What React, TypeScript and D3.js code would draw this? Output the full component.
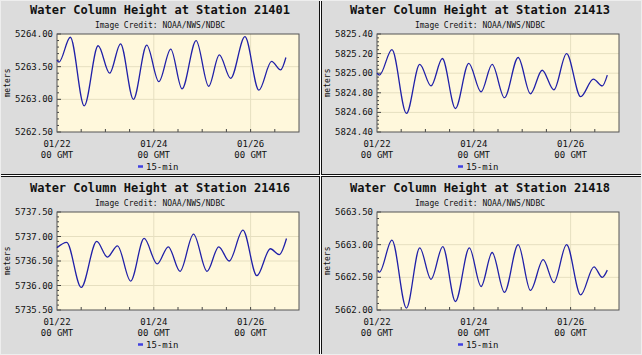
import React from "react";
import * as d3 from "d3";

const stations = ["21401", "21413", "21416", "21418"];

const hours1 = [0, 1, 6.6, 13.5, 20.4, 26.1, 31.5, 37.9, 44.5, 50.5, 56.4, 62.0, 69.0, 75.2, 80.5, 86.1, 93.2, 100.1, 106.4, 110.9, 113.5];
const values1 = [5263.60, 5263.57, 5263.95, 5262.90, 5263.82, 5263.40, 5263.85, 5263.00, 5263.83, 5263.27, 5263.77, 5263.16, 5263.90, 5263.20, 5263.68, 5263.32, 5263.96, 5263.14, 5263.58, 5263.45, 5263.64];

const hours2 = [0, 1.2, 7.4, 14.6, 21.2, 26.8, 32.4, 38.9, 45.5, 51.6, 57.1, 63.2, 70.0, 76.1, 81.9, 87.7, 94.0, 101.0, 107.3, 111.7, 114.2];
const values2 = [5825.00, 5824.98, 5825.24, 5824.59, 5825.09, 5824.87, 5825.15, 5824.64, 5825.10, 5824.81, 5825.09, 5824.75, 5825.16, 5824.79, 5825.03, 5824.83, 5825.20, 5824.76, 5824.94, 5824.87, 5824.98];

const hours3 = [0, 4.8, 12.0, 19.7, 25.0, 30.0, 36.5, 43.2, 49.7, 55.2, 61.0, 67.7, 74.4, 80.2, 85.4, 92.2, 99.1, 105.8, 110.2, 113.8];
const values3 = [5736.77, 5736.88, 5735.96, 5736.90, 5736.58, 5736.81, 5736.09, 5736.96, 5736.44, 5736.79, 5736.29, 5737.05, 5736.29, 5736.79, 5736.50, 5737.13, 5736.20, 5736.75, 5736.63, 5736.96];

const hours4 = [0.5, 1.2, 7.4, 14.6, 21.2, 26.8, 32.6, 38.9, 45.8, 51.6, 57.1, 63.2, 70.0, 76.1, 82.4, 87.7, 94.0, 101.0, 107.6, 111.7, 114.2];
const values4 = [5662.60, 5662.58, 5663.07, 5662.03, 5662.95, 5662.47, 5662.97, 5662.13, 5662.95, 5662.36, 5662.88, 5662.27, 5663.00, 5662.30, 5662.77, 5662.42, 5663.00, 5662.23, 5662.66, 5662.50, 5662.61];

const yTicks1 = [5262.5, 5263.0, 5263.5, 5264.0];
const yTicks2 = [5824.4, 5824.6, 5824.8, 5825.0, 5825.2, 5825.4];
const yTicks3 = [5735.5, 5736.0, 5736.5, 5737.0, 5737.5];
const yTicks4 = [5662.0, 5662.5, 5663.0, 5663.5];

const xTickHours = [0, 48, 96];
const xTickLabels = ["01/22", "01/24", "01/26"];
const xDomainHours = [0, 120];

const MONO = "'DejaVu Sans Mono', monospace";

type PanelProps = {
  x0: number;
  y0: number;
  station: string;
  hours: number[];
  values: number[];
  yTicks: number[];
};

function Panel({ x0, y0, station, hours, values, yTicks }: PanelProps) {
  const left = 57, right = 299, top = 34, bottom = 132;
  const x = d3.scaleLinear().domain(xDomainHours).range([left, right]);
  const y = d3.scaleLinear().domain([yTicks[0], yTicks[yTicks.length - 1]]).range([bottom, top]);
  const pts = hours.map((h, i) => [h, values[i]] as [number, number]);
  const line = d3.line<[number, number]>().x(d => x(d[0])).y(d => y(d[1])).curve(d3.curveMonotoneX);
  const step = yTicks[1] - yTicks[0];
  const minor: number[] = [];
  for (let i = 0; i < yTicks.length - 1; i++) {
    for (let k = 1; k < 5; k++) minor.push(yTicks[i] + (step * k) / 5);
  }
  const xMinor = d3.range(12, 120, 12);
  return (
    <g transform={`translate(${x0},${y0})`}>
      <rect x={0} y={0} width={320} height={176} fill="#dcdcdc" />
      <text x={160} y={14} textAnchor="middle" fontFamily={MONO} fontWeight="bold" fontSize={12} fill="#111">
        Water Column Height at Station {station}
      </text>
      <text x={160} y={28} textAnchor="middle" fontFamily={MONO} fontSize={8} fill="#111">
        Image Credit: NOAA/NWS/NDBC
      </text>
      <rect x={left} y={top} width={right - left} height={bottom - top} fill="#fff8dc" />
      {yTicks.slice(1, -1).map(t => (
        <line key={"gy" + t} x1={left} x2={right} y1={y(t)} y2={y(t)} stroke="#e6dfc0" strokeWidth={1} />
      ))}
      {xTickHours.slice(1).map(h => (
        <line key={"gx" + h} x1={x(h)} x2={x(h)} y1={top} y2={bottom} stroke="#e6dfc0" strokeWidth={1} />
      ))}
      {yTicks.map(t => (
        <g key={"yt" + t}>
          <line x1={left} x2={left + 4} y1={y(t)} y2={y(t)} stroke="#444" />
          <text x={53} y={y(t) + 3} textAnchor="end" fontFamily={MONO} fontSize={9} fill="#111">
            {t.toFixed(2)}
          </text>
        </g>
      ))}
      {minor.map(t => (
        <line key={"ym" + t} x1={left} x2={left + 2} y1={y(t)} y2={y(t)} stroke="#444" />
      ))}
      {xMinor.map(h => (
        <line key={"xm" + h} x1={x(h)} x2={x(h)} y1={bottom} y2={bottom - 3} stroke="#444" />
      ))}
      <rect x={left} y={top} width={right - left} height={bottom - top} fill="none" stroke="#555" strokeWidth={1} />
      <path d={line(pts) || ""} fill="none" stroke="#2020a8" strokeWidth={1.3} />
      {xTickHours.map((h, i) => (
        <g key={"xl" + h}>
          <text x={x(h)} y={147} textAnchor="middle" fontFamily={MONO} fontSize={9} fill="#111">
            {xTickLabels[i]}
          </text>
          <text x={x(h)} y={158} textAnchor="middle" fontFamily={MONO} fontSize={9} fill="#111">
            00 GMT
          </text>
        </g>
      ))}
      <text transform={`translate(10,${(top + bottom) / 2}) rotate(-90)`} textAnchor="middle" fontFamily={MONO} fontSize={8} fill="#111">
        meters
      </text>
      <line x1={138} x2={143} y1={166.5} y2={166.5} stroke="#4040e0" strokeWidth={2.5} />
      <text x={146} y={170} fontFamily={MONO} fontSize={9} fill="#111">
        15-min
      </text>
    </g>
  );
}

export default function App() {
  const panels = [
    { x0: 0, y0: 0, hours: hours1, values: values1, yTicks: yTicks1 },
    { x0: 320, y0: 0, hours: hours2, values: values2, yTicks: yTicks2 },
    { x0: 0, y0: 178, hours: hours3, values: values3, yTicks: yTicks3 },
    { x0: 320, y0: 178, hours: hours4, values: values4, yTicks: yTicks4 },
  ];
  return (
    <svg width={642} height={355} style={{ position: "absolute", left: 0, top: 0 }}>
      <rect x={0} y={0} width={642} height={355} fill="#dcdcdc" />
      {panels.map((p, i) => (
        <Panel key={i} x0={p.x0} y0={p.y0} station={stations[i]} hours={p.hours} values={p.values} yTicks={p.yTicks} />
      ))}
      <line x1={319.5} x2={319.5} y1={0} y2={355} stroke="#111" />
      <line x1={320.5} x2={320.5} y1={0} y2={355} stroke="#fff" />
      <line x1={321.5} x2={321.5} y1={0} y2={355} stroke="#111" />
      <line x1={0} x2={642} y1={174.5} y2={174.5} stroke="#111" />
      <line x1={0} x2={642} y1={175.5} y2={175.5} stroke="#fff" />
      <line x1={0} x2={642} y1={176.5} y2={176.5} stroke="#111" />
      <line x1={320.5} x2={320.5} y1={174} y2={177} stroke="#fff" />
      <rect x={0.5} y={0.5} width={641} height={354} fill="none" stroke="#eeeeee" />
    </svg>
  );
}
